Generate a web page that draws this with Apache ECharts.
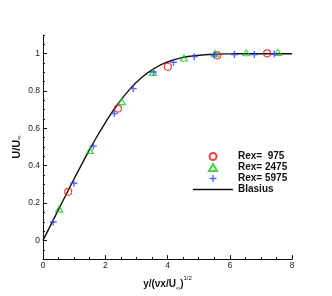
<!DOCTYPE html>
<html><head><meta charset="utf-8">
<script src="https://cdn.jsdelivr.net/npm/echarts@6/dist/echarts.min.js"></script>
<style>html,body{margin:0;padding:0;background:#fff}#c{width:332px;height:296px}</style>
</head><body><div id="c"></div>
<script>
// Rex = 975 (red circles)
const rex975X = [0.81, 2.41, 4.01, 5.60, 7.20];
const rex975Y = [0.26, 0.706, 0.93, 0.991, 1.002];
// Rex = 2475 (green triangles)
const rex2475X = [0.52, 1.51, 2.53, 3.53, 4.53, 5.53, 6.53, 7.55];
const rex2475Y = [0.169, 0.482, 0.743, 0.90, 0.977, 1.0, 1.005, 1.007];
// Rex = 5975 (blue plus)
const rex5975X = [0.33, 0.99, 1.62, 2.29, 2.90, 3.55, 4.19, 4.86, 5.50, 6.15, 6.79, 7.43];
const rex5975Y = [0.099, 0.306, 0.505, 0.68, 0.813, 0.902, 0.954, 0.984, 0.993, 0.995, 0.995, 0.998];
// Blasius profile
const blasiusEta = [0, 0.4, 0.8, 1.2, 1.6, 2.0, 2.4, 2.8, 3.2, 3.6, 4.0, 4.4, 4.8, 5.2, 5.6, 6.0, 6.4, 6.8, 7.2, 7.6, 8.0];
const blasiusU = [0, 0.1328, 0.2647, 0.3938, 0.5168, 0.6298, 0.7290, 0.8115, 0.8761, 0.9233, 0.9555, 0.9759, 0.9878, 0.9943, 0.9975, 0.9990, 0.9996, 0.9999, 1.0, 1.0, 1.0];
const seriesNames = ['Rex=  975', 'Rex= 2475', 'Rex= 5975', 'Blasius'];
const xTicks = [0, 2, 4, 6, 8];
const yTicks = [0, 0.2, 0.4, 0.6, 0.8, 1];

const zip = (a, b) => a.map((v, i) => [v, b[i]]);
const FONT = 'Liberation Sans';
const plus = 'path://M4,0H6V4H10V6H6V10H4V6H0V4H4Z';
const tri = 'path://M5,0L10,8.66L0,8.66Z';
const lineIcon = 'path://M0,0H40V1.4H0Z';

const chart = echarts.init(document.getElementById('c'), null, {renderer: 'canvas'});
chart.setOption({
  animation: false,
  backgroundColor: '#fff',
  textStyle: {fontFamily: FONT},
  grid: {left: 43, right: 40, top: 35, bottom: 33, containLabel: false},
  legend: {
    orient: 'vertical', left: 188, top: 146,
    itemWidth: 40, itemHeight: 7, itemGap: 0,
    symbolKeepAspect: true,
    data: [
      {name: seriesNames[0], icon: 'circle'},
      {name: seriesNames[1], icon: tri},
      {name: seriesNames[2], icon: plus},
      {name: seriesNames[3], icon: lineIcon}
    ],
    textStyle: {fontFamily: FONT, fontSize: 10, fontWeight: 'bold', color: '#111', lineHeight: 11},
    selectedMode: false
  },
  xAxis: {
    type: 'value', min: 0, max: 8, interval: 2,
    name: '{a|y/(νx/U}{s|∞}{a|)}{p|1/2}',
    nameLocation: 'middle', nameGap: 11,
    nameTextStyle: {
      rich: {
        a: {fontFamily: FONT, fontSize: 10, fontWeight: 'bold', color: '#111', lineHeight: 14, verticalAlign: 'bottom'},
        s: {fontFamily: FONT, fontSize: 6, color: '#111', lineHeight: 14, verticalAlign: 'bottom', padding: [0,0,-2,0]},
        p: {fontFamily: FONT, fontSize: 6, color: '#111', verticalAlign: 'top', lineHeight: 14}
      }
    },
    axisLine: {onZero: false, lineStyle: {color: '#111', width: 1}},
    axisTick: {inside: true, length: 4, lineStyle: {color: '#111'}},
    minorTick: {show: true, splitNumber: 4, length: 2, lineStyle: {color: '#111'}},
    axisLabel: {margin: 2, fontSize: 8.5, color: '#222', customValues: xTicks},
    splitLine: {show: false}
  },
  yAxis: [{
    type: 'value', min: -0.1, max: 1.1,
    name: '{a|U/U}{s|∞}',
    nameLocation: 'middle', nameGap: 21, nameRotate: 90, nameMoveOverlap: false,
    nameTextStyle: {
      rich: {
        a: {fontFamily: FONT, fontSize: 11, fontWeight: 'bold', color: '#111', lineHeight: 14, verticalAlign: 'bottom'},
        s: {fontFamily: FONT, fontSize: 6, color: '#111', lineHeight: 14, verticalAlign: 'bottom'}
      }
    },
    axisLine: {onZero: false, lineStyle: {color: '#111', width: 1}},
    axisTick: {inside: true, length: 4, customValues: yTicks, lineStyle: {color: '#111'}},
    axisLabel: {margin: 3, fontSize: 8.5, color: '#222', customValues: yTicks},
    splitLine: {show: false}
  }, {
    type: 'value', min: -0.1, max: 1.1, interval: 0.05, position: 'left', offset: 0,
    axisLine: {show: false},
    axisTick: {inside: true, length: 2, lineStyle: {color: '#111'}},
    axisLabel: {show: false},
    splitLine: {show: false}
  }],
  series: [{
    name: seriesNames[0], type: 'scatter', symbol: 'circle', symbolSize: 7,
    itemStyle: {color: 'rgba(0,0,0,0)', borderColor: '#ee1111', borderWidth: 1.2},
    data: zip(rex975X, rex975Y), z: 3
  }, {
    name: seriesNames[1], type: 'scatter', symbol: tri, symbolSize: 7, symbolKeepAspect: true,
    itemStyle: {color: 'rgba(0,0,0,0)', borderColor: '#11cc11', borderWidth: 1.2},
    data: zip(rex2475X, rex2475Y), z: 3
  }, {
    name: seriesNames[2], type: 'scatter', symbol: plus, symbolSize: 7,
    itemStyle: {color: '#3344ff'},
    data: zip(rex5975X, rex5975Y), z: 3
  }, {
    name: seriesNames[3], type: 'line', showSymbol: false, symbol: 'none', smooth: true,
    lineStyle: {color: '#111', width: 1.4},
    itemStyle: {color: '#111'},
    data: zip(blasiusEta, blasiusU), z: 2
  }]
});
</script></body></html>
